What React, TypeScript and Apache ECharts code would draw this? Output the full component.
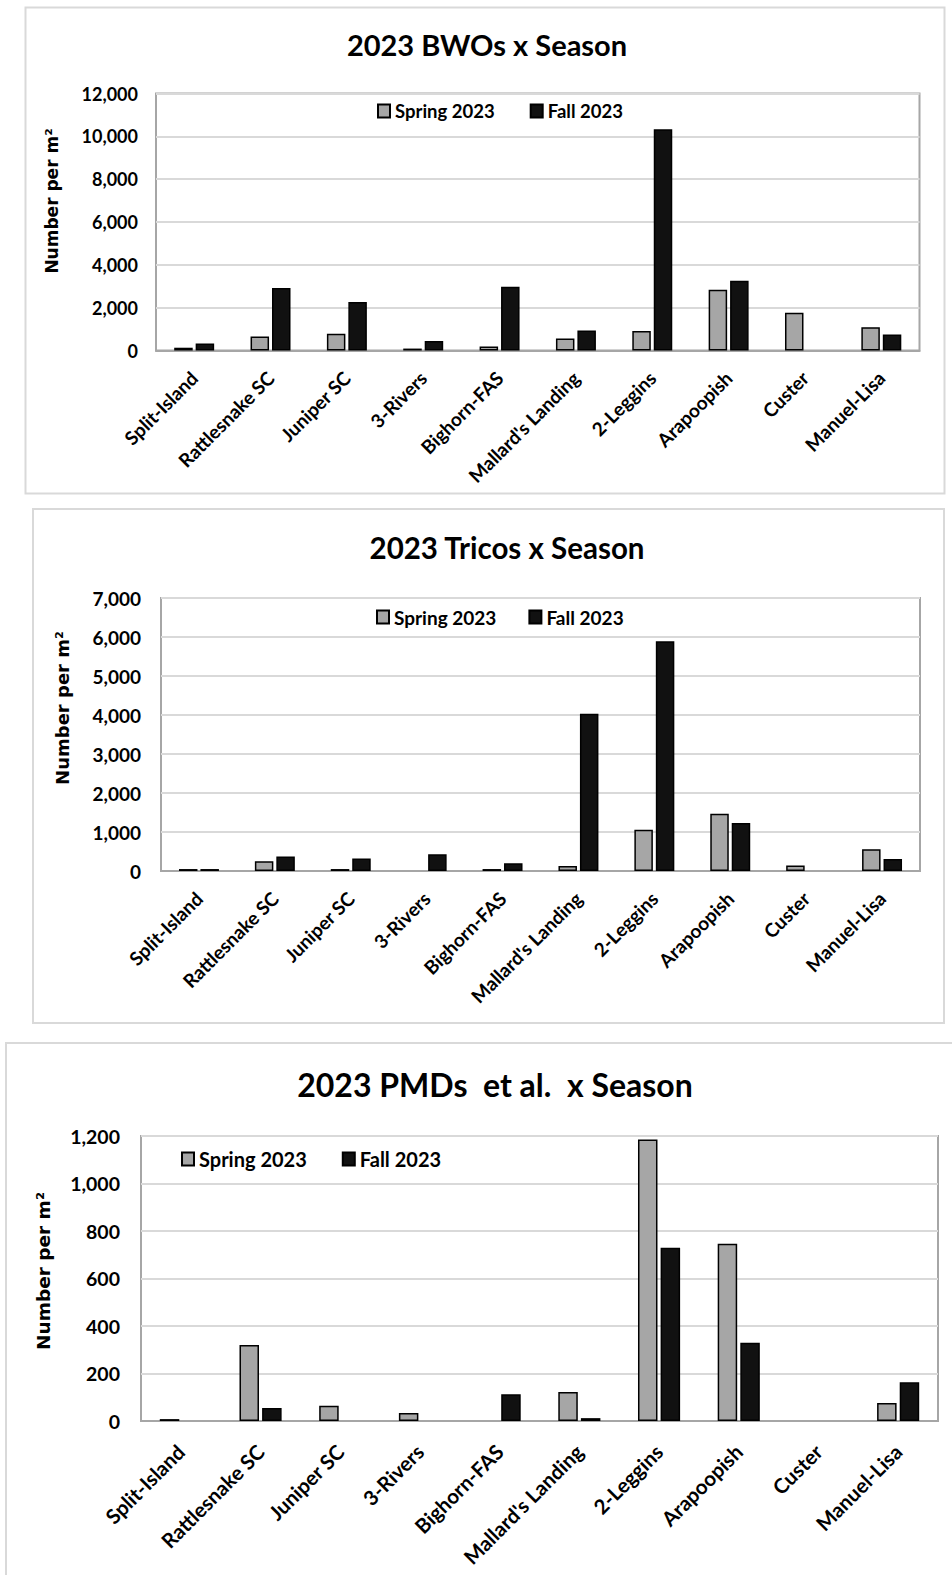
import React, { useEffect, useRef } from "react";
import * as echarts from "echarts";

// Sampling sites along the river, upstream to downstream
const sites = [
  "Split-Island",
  "Rattlesnake SC",
  "Juniper SC",
  "3-Rivers",
  "Bighorn-FAS",
  "Mallard's Landing",
  "2-Leggins",
  "Arapoopish",
  "Custer",
  "Manuel-Lisa",
];

const seasonNames = ["Spring 2023", "Fall 2023"];

// Blue-winged olives, number per m²
const bwoSpring = [130, 650, 780, 90, 190, 560, 910, 2840, 1760, 1090];
const bwoFall = [330, 2920, 2270, 440, 2980, 930, 10330, 3260, 0, 750];

// Tricos, number per m²
const tricoSpring = [50, 250, 50, 0, 50, 130, 1060, 1470, 140, 560];
const tricoFall = [50, 370, 320, 430, 200, 4030, 5890, 1230, 0, 310];

// PMDs et al., number per m²
const pmdSpring = [8, 320, 64, 34, 0, 122, 1185, 746, 0, 76];
const pmdFall = [0, 55, 0, 0, 113, 12, 729, 330, 0, 163];

const titles = ["2023 BWOs x Season", "2023 Tricos x Season", "2023 PMDs  et al.  x Season"];
const yMax = [12000, 7000, 1200];
const yStep = [2000, 1000, 200];
const yTitle = "Number per m²";

const SPRING = "#a6a6a6";
const FALL = "#111111";
const FONT = "Lato";

// Per-panel layout: frame box, plot grid, title, legend, axis title, text sizes
const panels = [
  {
    box: { x: 25.5, y: 7.5, w: 919, h: 486 },
    grid: { left: 156, top: 93.5, width: 763.5, height: 257 },
    title: { x: 487, y: 44, size: 29 },
    legend: { left: 377, top: 101.5, size: 18.5, gap: 35 },
    yName: { x: 52, y: 201, size: 17 },
    tick: 18, tickMargin: 18, xLabel: 19, xMargin: 24, barWidth: 18.5,
    spring: bwoSpring, fall: bwoFall,
  },
  {
    box: { x: 33, y: 509, w: 911, h: 514 },
    grid: { left: 161, top: 598, width: 759, height: 273 },
    title: { x: 507, y: 547, size: 29.5 },
    legend: { left: 376, top: 607.5, size: 19, gap: 32 },
    yName: { x: 62, y: 708, size: 18 },
    tick: 19, tickMargin: 20, xLabel: 19, xMargin: 24, barWidth: 18.5,
    spring: tricoSpring, fall: tricoFall,
  },
  {
    box: { x: 6, y: 1043, w: 1000, h: 600 },
    grid: { left: 141, top: 1136, width: 797, height: 285 },
    title: { x: 495, y: 1084, size: 32 },
    legend: { left: 181, top: 1149, size: 20, gap: 35 },
    yName: { x: 43, y: 1271, size: 18.5 },
    tick: 19.5, tickMargin: 21, xLabel: 20.5, xMargin: 27, barWidth: 19.5,
    spring: pmdSpring, fall: pmdFall,
  },
];

const fmt = (v: number) => v.toLocaleString("en-US");
const bars = (vals: number[]) => vals.map((v) => (v === 0 ? "-" : v));

function buildOption() {
  const graphic: any[] = [];
  panels.forEach((p, i) => {
    graphic.push({
      type: "rect",
      shape: { x: p.box.x, y: p.box.y, width: p.box.w, height: p.box.h },
      style: { fill: "none", stroke: "#d9d9d9", lineWidth: 2 },
      z: -1,
    });
    graphic.push({
      type: "text",
      x: p.title.x,
      y: p.title.y,
      style: {
        text: titles[i],
        font: `bold ${p.title.size}px ${FONT}`,
        fill: "#000",
        align: "center",
        verticalAlign: "middle",
        textAlign: "center",
        textVerticalAlign: "middle",
      },
    });
    graphic.push({
      type: "text",
      x: p.yName.x,
      y: p.yName.y,
      rotation: Math.PI / 2,
      style: {
        text: yTitle,
        font: `bold ${p.yName.size}px "DejaVu Sans"`,
        fill: "#000",
        align: "center",
        verticalAlign: "middle",
        textAlign: "center",
        textVerticalAlign: "middle",
      },
    });
  });

  return {
    animation: false,
    backgroundColor: "#fff",
    graphic,
    grid: panels.map((p) => ({
      ...p.grid,
      show: true,
      borderColor: "#a6a6a6",
      borderWidth: 2,
      backgroundColor: "transparent",
      containLabel: false,
    })),
    legend: panels.map((p) => ({
      data: seasonNames,
      left: p.legend.left,
      top: p.legend.top,
      orient: "horizontal",
      padding: 0,
      itemGap: p.legend.gap,
      itemWidth: 12,
      itemHeight: 13,
      icon: "rect",
      textStyle: { fontFamily: FONT, fontWeight: "bold", fontSize: p.legend.size, color: "#000" },
    })),
    xAxis: panels.map((p, i) => ({
      type: "category",
      gridIndex: i,
      data: sites,
      axisLine: { show: true, lineStyle: { color: "#a6a6a6", width: 2 } },
      axisTick: { show: false },
      axisLabel: {
        interval: 0,
        rotate: 45,
        align: "right",
        verticalAlign: "middle",
        margin: p.xMargin,
        fontFamily: FONT,
        fontWeight: "bold",
        fontSize: p.xLabel,
        color: "#000",
      },
    })),
    yAxis: panels.map((p, i) => ({
      type: "value",
      gridIndex: i,
      min: 0,
      max: yMax[i],
      interval: yStep[i],
      axisLine: { show: false },
      axisTick: { show: false },
      splitLine: { lineStyle: { color: "#d9d9d9", width: 2 } },
      axisLabel: {
        formatter: fmt,
        margin: p.tickMargin,
        fontFamily: FONT,
        fontWeight: "bold",
        fontSize: p.tick,
        color: "#000",
      },
    })),
    series: panels.flatMap((p, i) => [
      {
        name: seasonNames[0],
        type: "bar",
        xAxisIndex: i,
        yAxisIndex: i,
        data: bars(p.spring),
        barWidth: p.barWidth,
        barGap: "16%",
        itemStyle: { color: SPRING, borderColor: "#000", borderWidth: 1.5 },
      },
      {
        name: seasonNames[1],
        type: "bar",
        xAxisIndex: i,
        yAxisIndex: i,
        data: bars(p.fall),
        barWidth: p.barWidth,
        barGap: "16%",
        itemStyle: { color: FALL, borderColor: "#000", borderWidth: 1.5 },
      },
    ]),
  };
}

export default function App() {
  const ref = useRef<HTMLDivElement>(null);
  useEffect(() => {
    if (!ref.current) return;
    const chart = echarts.init(ref.current, undefined, { renderer: "svg" });
    chart.setOption(buildOption() as any);
    return () => chart.dispose();
  }, []);
  return (
    <div
      ref={ref}
      style={{ position: "absolute", left: 0, top: 0, width: 952, height: 1575, background: "#fff" }}
    />
  );
}
